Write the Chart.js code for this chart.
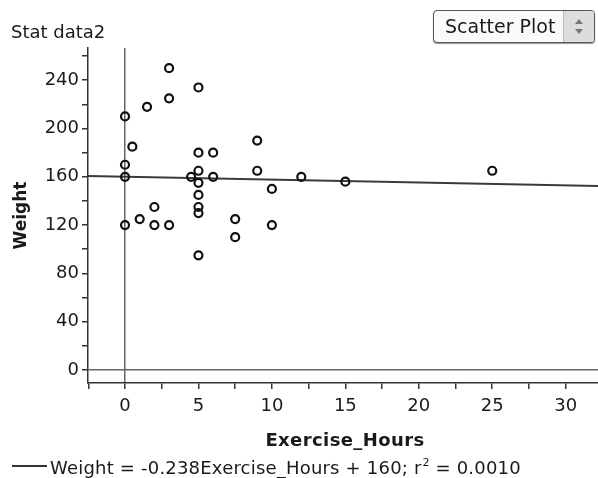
<!DOCTYPE html>
<html>
<head>
<meta charset="utf-8">
<script src="https://cdn.jsdelivr.net/npm/chart.js@4/dist/chart.umd.min.js"></script>
<style>
  body { margin: 0; background: #fff; }
  #wrap { position: relative; width: 598px; height: 478px; }
  #plotType {
    position: absolute; left: 433px; top: 10px; width: 162px; height: 33px;
    border: 1px solid #555; border-radius: 4px; box-sizing: border-box;
    font: 19px "DejaVu Sans", sans-serif; color: #1a1a1a;
    background: #fafafa; box-shadow: 0 1px 1px #999;
  }
  #plotType span { position: absolute; left: 11px; top: 4px; }
  #plotType .step {
    position: absolute; right: 0; top: 0; bottom: 0; width: 30px;
    background: #ddd; border-left: 1px solid #bbb; border-radius: 0 3px 3px 0;
  }
  #plotType .step i {
    position: absolute; left: 11px; width: 0; height: 0;
    border-left: 4px solid transparent; border-right: 4px solid transparent;
  }
  #plotType .up { top: 8px; border-bottom: 5px solid #777; }
  #plotType .dn { top: 18px; border-top: 5px solid #777; }
</style>
</head>
<body>
<div id="wrap">
  <canvas id="statChart" width="598" height="478"></canvas>
  <div id="plotType"><span>Scatter Plot</span><div class="step"><i class="up"></i><i class="dn"></i></div></div>
</div>
<script>
// Stat data2: exercise hours vs weight
const exerciseHours = [0, 0, 0, 0, 0.5, 1, 1.5, 2, 2, 3, 3, 3, 4.5, 5, 5, 5, 5, 5, 5, 5, 5, 6, 6, 7.5, 7.5, 9, 9, 10, 10, 12, 15, 25];
const weight = [210, 170, 160, 120, 185, 125, 218, 135, 120, 250, 225, 120, 160, 234, 180, 165, 155, 145, 135, 130, 95, 180, 160, 125, 110, 190, 165, 150, 120, 160, 156, 165];

// least squares line as reported
const slope = -0.238;
const intercept = 160;
const rSquared = '0.0010';

const xTicks = [-2.5, 0, 2.5, 5, 7.5, 10, 12.5, 15, 17.5, 20, 22.5, 25, 27.5, 30];
const yTicks = [0, 20, 40, 60, 80, 100, 120, 140, 160, 180, 200, 220, 240, 260];

const xMin = -2.52, xMax = 32.2;
const yMin = -10.8, yMax = 266.7;

const FONT = '"DejaVu Sans", sans-serif';
const INK = '#1a1a1a';

const points = exerciseHours.map((h, i) => ({ x: h, y: weight[i] }));
const fitLine = [xMin, xMax].map(h => ({ x: h, y: slope * h + intercept }));

// title, axis titles and the fit legend
const labels = {
  id: 'labels',
  afterDraw(chart) {
    const c = chart.ctx;
    const area = chart.chartArea;
    c.save();
    c.fillStyle = INK;
    c.textBaseline = 'alphabetic';
    c.font = '18px ' + FONT;
    c.fillText('Stat data2', 11, 38);

    c.font = 'bold 18px ' + FONT;
    c.letterSpacing = '0.4px';
    c.textAlign = 'center';
    c.fillText('Exercise_Hours', 345, 446);
    c.letterSpacing = '0px';

    c.font = 'bold 17px ' + FONT;
    c.translate(26, (area.top + area.bottom) / 2);
    c.rotate(-Math.PI / 2);
    c.fillText('Weight', 0, 0);
    c.restore();

    c.save();
    c.strokeStyle = '#333';
    c.lineWidth = 2;
    c.beginPath();
    c.moveTo(12, 466);
    c.lineTo(47, 466);
    c.stroke();
    c.fillStyle = INK;
    c.font = '18px ' + FONT;
    c.letterSpacing = '0.2px';
    let txt = 'Weight = ' + slope + 'Exercise_Hours + ' + intercept + '; r';
    c.fillText(txt, 50, 474);
    let w = 50 + c.measureText(txt).width;
    c.font = '11px ' + FONT;
    c.fillText('2', w + 1, 466);
    c.font = '18px ' + FONT;
    c.fillText(' = ' + rSquared, w + 8, 474);
    c.restore();
  }
};

const ctx = document.getElementById('statChart').getContext('2d');
const statChart = new Chart(ctx, {
  type: 'scatter',
  data: {
    datasets: [{
      label: 'Weight',
      data: points,
      pointStyle: 'circle',
      pointRadius: 4,
      pointBorderWidth: 2.2,
      pointBorderColor: '#111',
      pointBackgroundColor: 'transparent',
      order: 0
    }, {
      type: 'line',
      label: 'fit',
      data: fitLine,
      borderColor: '#3a3a3a',
      borderWidth: 2,
      pointRadius: 0,
      order: 1
    }]
  },
  options: {
    responsive: false,
    animation: false,
    layout: { autoPadding: false, padding: { top: 48, left: 0, right: 0, bottom: 0 } },
    plugins: {
      legend: { display: false },
      tooltip: { enabled: false }
    },
    scales: {
      x: {
        type: 'linear',
        min: xMin,
        max: xMax,
        afterFit: s => { s.height = 95; s.paddingLeft = 0; s.paddingRight = 0; },
        afterBuildTicks: s => { s.ticks = xTicks.map(v => ({ value: v })); },
        border: { display: true, color: '#333', width: 1.5 },
        grid: {
          drawOnChartArea: true,
          color: c => (c.tick && c.tick.value === 0) ? '#666' : 'transparent',
          lineWidth: 1.5,
          tickColor: '#333',
          tickLength: 6
        },
        ticks: {
          autoSkip: false,
          maxRotation: 0,
          padding: 7,
          color: INK,
          font: { family: FONT, size: 18 },
          callback: v => (v % 5 === 0 ? v : '')
        }
      },
      y: {
        type: 'linear',
        min: yMin,
        max: yMax,
        afterFit: s => { s.width = 88; s.paddingTop = 0; s.paddingBottom = 0; },
        afterBuildTicks: s => { s.ticks = yTicks.map(v => ({ value: v })); },
        border: { display: true, color: '#333', width: 1.5 },
        grid: {
          drawOnChartArea: true,
          color: c => (c.tick && c.tick.value === 0) ? '#666' : 'transparent',
          lineWidth: 1.5,
          tickColor: '#333',
          tickLength: 6
        },
        ticks: {
          autoSkip: false,
          padding: 3,
          color: INK,
          font: { family: FONT, size: 18 },
          callback: v => (v % 40 === 0 ? v : '')
        }
      }
    }
  },
  plugins: [labels]
});
</script>
</body>
</html>
